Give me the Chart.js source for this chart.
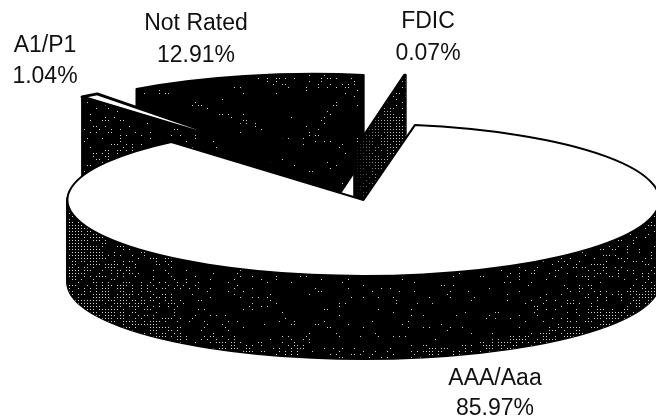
<!DOCTYPE html>
<html>
<head>
<meta charset="utf-8">
<style>
  html, body { margin: 0; padding: 0; background: #fff; }
  #wrap { position: relative; width: 656px; height: 417px; overflow: hidden; }
</style>
<script src="https://cdn.jsdelivr.net/npm/chart.js@4"></script>
</head>
<body>
<div id="wrap"><canvas id="pie" width="656" height="417"></canvas></div>
<script>
const categories = ["AAA/Aaa", "A1/P1", "Not Rated", "FDIC"];
const shares = [85.97, 1.04, 12.91, 0.07];
const shareLabels = ["85.97%", "1.04%", "12.91%", "0.07%"];

// ellipse of the tilted pie on the page
const rimX = 296;
const rimY = 76;
const wallDepth = 83;
const pieCenter = { x: 337, y: 175 };
// back slices are painted first
const paintOrder = [2, 1, 3, 0];

// repeatable scatter, so the speckle is the same on every load
function scatter(x, y) {
  const v = Math.sin(x * 12.9898 + y * 78.233) * 43758.5453;
  return v - Math.floor(v);
}

// patchiness so the dots gather in loose clumps
function clump(x, y) {
  return 0.5 + 0.5 * Math.sin(x / 17 + Math.sin(y / 9)) * Math.cos(y / 13 - x / 29);
}

// black with light specks, denser where density() is higher
function speckle(density) {
  const c = document.createElement("canvas");
  c.width = 656;
  c.height = 417;
  const g = c.getContext("2d");
  g.fillStyle = "#000";
  g.fillRect(0, 0, 656, 417);
  g.fillStyle = "#d0d0d0";
  for (let y = 0; y < 417; y += 3) {
    for (let x = 0; x < 656; x += 3) {
      if (scatter(x, y) < density(x, y) * (0.35 + 1.3 * clump(x, y))) g.fillRect(x, y, 1, 1);
    }
  }
  return g.createPattern(c, "no-repeat");
}

function mainWallDensity(x, y) {
  const u = (x - 362) / rimX;
  const low = 283 + rimY * Math.sqrt(Math.max(0, 1 - u * u));
  const band = low - y < 13 ? 0.24 : 0;
  const left = x < 260 ? 0.75 * Math.pow((260 - x) / 192, 2) : 0;
  const right = x > 420 ? 0.3 * Math.pow((x - 420) / 236, 2) : 0;
  return 0.06 + left + right + band;
}

function nearSegment(x, y, a, b, c, d) {
  const t = Math.max(0, Math.min(1, ((x - a) * (c - a) + (y - b) * (d - b)) / ((c - a) ** 2 + (d - b) ** 2)));
  return Math.hypot(x - a - t * (c - a), y - b - t * (d - b));
}

// the lid of the dark slice only shows dots in a ring inside its outline
function notRatedLidDensity(x, y) {
  const ring = Math.min(nearSegment(x, y, 150, 92, 303, 146), nearSegment(x, y, 303, 146, 360, 82));
  return ring < 6 ? 0.32 : y < 90 && x > 230 ? 0.12 : 0.015;
}

const wallPatterns = [
  speckle(mainWallDensity),
  speckle(x => (x < 135 ? 0.16 : 0.05)),
  speckle(() => 0.03),
  speckle(() => 0.55)
];
const notRatedTop = speckle(notRatedLidDensity);

function slicePath(ctx, arc, scale, lift) {
  const { startAngle, endAngle } = arc.getProps(["startAngle", "endAngle"]);
  const mid = (startAngle + endAngle) / 2;
  const ox = Math.cos(mid) * arc.options.offset;
  const oy = Math.sin(mid) * arc.options.offset;
  ctx.save();
  ctx.translate(pieCenter.x, pieCenter.y + lift);
  ctx.scale(scale.x, scale.y);
  ctx.translate(ox, oy);
  ctx.moveTo(0, 0);
  ctx.arc(0, 0, arc.outerRadius, startAngle, endAngle);
  ctx.closePath();
  ctx.restore();
}

const tiltedPie = {
  id: "tiltedPie",
  beforeDatasetDraw(chart) {
    const ctx = chart.ctx;
    const arcs = chart.getDatasetMeta(0).data;
    const scale = { x: rimX / arcs[0].outerRadius, y: rimY / arcs[0].outerRadius };
    ctx.save();
    ctx.lineJoin = "round";
    paintOrder.forEach(i => {
      const arc = arcs[i];
      // solid silhouette first, speckle over it, then the lid
      ctx.fillStyle = "#000";
      ctx.strokeStyle = "#000";
      ctx.lineWidth = 2;
      for (let d = wallDepth; d > 0; d--) {
        ctx.beginPath();
        slicePath(ctx, arc, scale, d);
        ctx.fill();
        ctx.stroke();
      }
      ctx.fillStyle = wallPatterns[i];
      for (let d = wallDepth; d > 0; d--) {
        ctx.beginPath();
        slicePath(ctx, arc, scale, d);
        ctx.fill();
      }
      ctx.beginPath();
      slicePath(ctx, arc, scale, 0);
      ctx.fillStyle = arc.options.backgroundColor;
      ctx.fill();
      ctx.strokeStyle = arc.options.borderColor;
      ctx.lineWidth = arc.options.borderWidth;
      ctx.stroke();
    });
    ctx.restore();
    return false;
  },
  afterDraw(chart) {
    const ctx = chart.ctx;
    // baselines of the name and share lines, centred on x
    const spots = [[495, 385, 415], [45, 52, 83], [196, 30, 62], [428, 28, 60]];
    ctx.save();
    ctx.fillStyle = "#111";
    ctx.font = '23px "Liberation Sans", Arial, sans-serif';
    ctx.textAlign = "center";
    ctx.textBaseline = "alphabetic";
    categories.forEach((name, i) => {
      ctx.fillText(name, spots[i][0], spots[i][1]);
      ctx.fillText(shareLabels[i], spots[i][0], spots[i][2]);
    });
    ctx.restore();
  }
};

new Chart(document.getElementById("pie"), {
  type: "pie",
  data: {
    labels: categories,
    datasets: [{
      data: shares,
      backgroundColor: ["#fff", "#fff", notRatedTop, "#000"],
      borderColor: "#000",
      borderWidth: [2, 3, 2, 2],
      offset: 51
    }]
  },
  options: {
    responsive: false,
    animation: false,
    rotation: 10,
    radius: 150,
    plugins: { legend: { display: false }, tooltip: { enabled: false } }
  },
  plugins: [tiltedPie]
});
</script>
</body>
</html>
